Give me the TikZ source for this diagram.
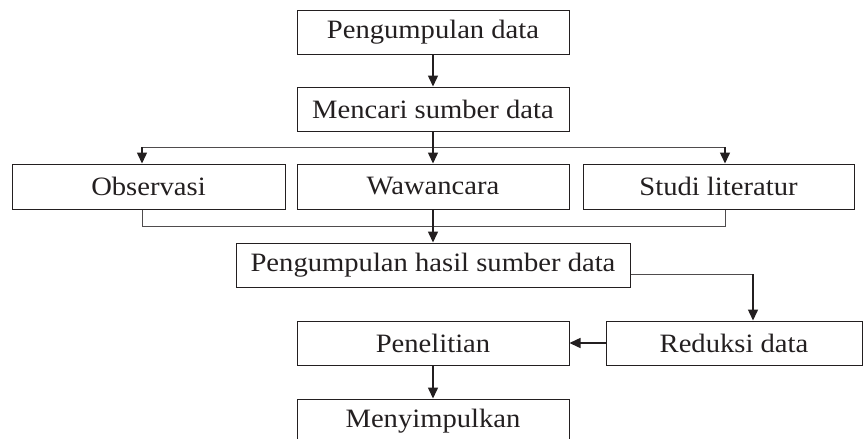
\documentclass[tikz,border=0pt]{standalone}
\usepackage{fontspec}
\setmainfont[FakeStretch=1.08]{Liberation Serif}
\usepackage{tikz}
\usetikzlibrary{arrows.meta}
\definecolor{ink}{HTML}{231F20}

\begin{document}
\begin{tikzpicture}[
    x=1pt, y=-1pt,
    box/.style={draw=ink, line width=1pt, minimum height=44pt, inner sep=0pt,
      text=ink, font=\fontsize{26.5}{30}\selectfont},
    arr/.style={draw=ink, line width=1.5pt, -{Triangle[length=11pt,width=10pt]}},
    rail/.style={draw=ink!80, line width=1pt}
    ]
    \useasboundingbox (0,0) rectangle (865,439);
    \node[box, minimum width=272pt] (kumpul) at (433,32) {Pengumpulan data};
    \node[box, minimum width=272pt] (sumber) at (433,109) {Mencari sumber data};
    \node[box, minimum width=273pt, minimum height=45pt] (obs) at (148.5,186.5) {Observasi};
    \node[box, minimum width=272pt, minimum height=45pt] (wawan) at (433,186.5) {Wawancara};
    \node[box, minimum width=271pt, minimum height=45pt] (studi) at (718.5,186.5) {Studi literatur};
    \node[box, minimum width=394pt] (hasil) at (433,265) {Pengumpulan hasil sumber data};
    \node[box, minimum width=256pt] (reduksi) at (734,343) {Reduksi data};
    \node[box, minimum width=272pt] (teliti) at (433,343) {Penelitian};
    \node[box, minimum width=272pt] (simpul) at (433,421) {Menyimpulkan};
    % cabang ke sumber data
    \coordinate (sL) at (142,147);
    \coordinate (sR) at (725,147);
    \coordinate (jL) at (142,226);
    \coordinate (jR) at (725,226);
    \coordinate (hk) at (753,274);
    \draw[arr] (kumpul) -- (sumber);
    \draw[rail] (sL) -- (sR);
    \draw[arr] (sumber) -- (wawan);
    \draw[arr] (sL) -- (sL |- obs.north);
    \draw[arr] (sR) -- (sR |- studi.north);
    % gabungan hasil
    \draw[rail] (jL |- obs.south) -- (jL) -- (jR) -- (jR |- studi.south);
    \draw[arr] (wawan) -- (hasil);
    \draw[rail] (hasil.east |- hk) -- (hk);
    \draw[arr] (hk) -- (hk |- reduksi.north);
    \draw[arr] (reduksi) -- (teliti);
    \draw[arr] (teliti) -- (simpul);
\end{tikzpicture}
\end{document}
